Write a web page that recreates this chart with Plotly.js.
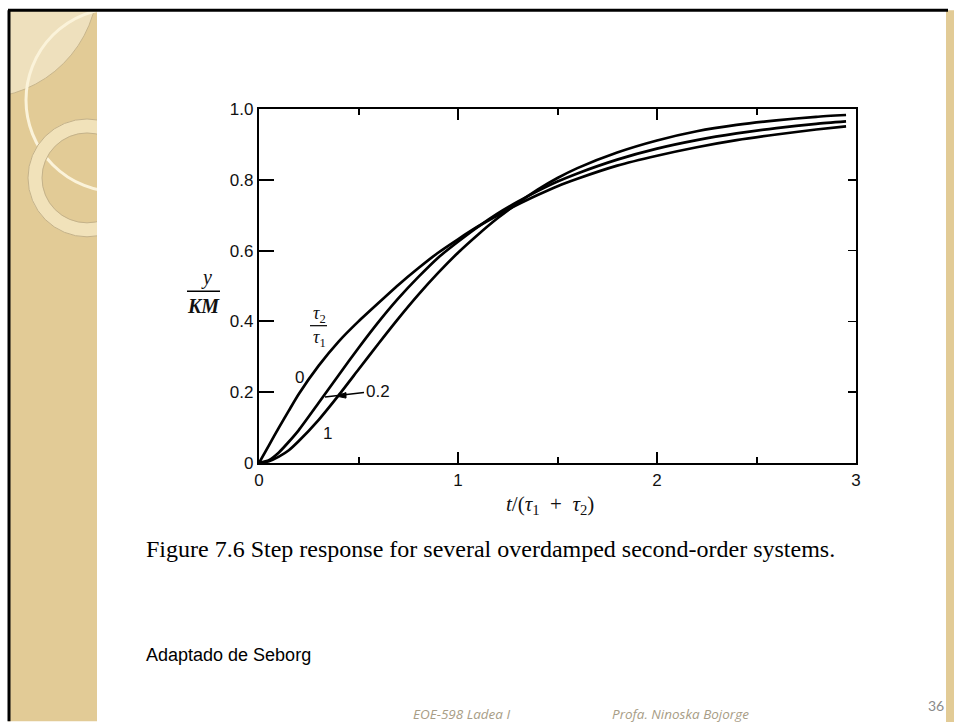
<!DOCTYPE html>
<html>
<head>
<meta charset="utf-8">
<script src="https://cdn.plot.ly/plotly-3.0.1.min.js"></script>
<style>
html,body{margin:0;padding:0;background:#fff;}
#chart{width:954px;height:722px;}
</style>
</head>
<body>
<div id="chart"></div>
<script>
// ---- data ----
const tValues = [0, 0.05, 0.1, 0.15, 0.2, 0.3, 0.4, 0.5, 0.6, 0.7, 0.8, 0.9, 1.0, 1.1, 1.2, 1.3, 1.4, 1.5, 1.6, 1.8, 2.0, 2.2, 2.4, 2.6, 2.8, 2.95];
const ratio0 = [0, 0.05, 0.1, 0.148, 0.195, 0.275, 0.343, 0.4, 0.452, 0.503, 0.55, 0.594, 0.632, 0.668, 0.70, 0.73, 0.757, 0.782, 0.803, 0.84, 0.868, 0.892, 0.912, 0.928, 0.942, 0.951];
const ratio02 = [0, 0.008, 0.03, 0.06, 0.093, 0.17, 0.248, 0.325, 0.398, 0.465, 0.525, 0.58, 0.625, 0.667, 0.705, 0.738, 0.768, 0.795, 0.818, 0.857, 0.888, 0.912, 0.931, 0.946, 0.958, 0.965];
const ratio1 = [0, 0.005, 0.018, 0.036, 0.062, 0.122, 0.191, 0.264, 0.337, 0.408, 0.475, 0.537, 0.594, 0.645, 0.692, 0.734, 0.772, 0.805, 0.833, 0.877, 0.911, 0.937, 0.955, 0.968, 0.978, 0.983];
const yTickVals = [0, 0.2, 0.4, 0.6, 0.8, 1.0];
const yTickText = ['0', '0.2', '0.4', '0.6', '0.8', '1.0'];
const yRightTicks = [0.2, 0.4, 0.6, 0.8];
const xTickVals = [0, 1, 2, 3];
const xTickText = ['0', '1', '2', '3'];
const caption = 'Figure 7.6 Step response for several overdamped second-order systems.';
const credit = 'Adaptado de Seborg';
const footerLeft = 'EOE-598 Ladea I';
const footerRight = 'Profa. Ninoska Bojorge';
const pageNum = '36';

// ---- layout geometry (pixels) ----
const W = 954, H = 722;
const L = 259, R = 856, T = 109, B = 463.5;
const px = x => (x - L) / (R - L);
const py = y => (B - y) / (B - T);

const lineStyle = {color: '#000', width: 2.7, shape: 'spline', smoothing: 0.6};
const traces = [
  {x: tValues, y: ratio0, mode: 'lines', line: lineStyle, name: '0', hoverinfo: 'skip'},
  {x: tValues, y: ratio02, mode: 'lines', line: lineStyle, name: '0.2', hoverinfo: 'skip'},
  {x: tValues, y: ratio1, mode: 'lines', line: lineStyle, name: '1', yaxis: 'y2', hoverinfo: 'skip'}
];

const tickFont = {family: 'Liberation Sans, Arial, sans-serif', size: 17, color: '#111'};

function circ(cx, cy, r, opts) {
  return Object.assign({type: 'circle', xref: 'paper', yref: 'paper', layer: 'below',
    x0: px(cx - r), x1: px(cx + r), y0: py(cy + r), y1: py(cy - r)}, opts);
}
function rect(x0, y0, x1, y1, opts) {
  return Object.assign({type: 'rect', xref: 'paper', yref: 'paper', layer: 'below',
    x0: px(x0), x1: px(x1), y0: py(y1), y1: py(y0)}, opts);
}
function seg(x0, y0, x1, y1, opts) {
  return Object.assign({type: 'line', xref: 'paper', yref: 'paper',
    x0: px(x0), x1: px(x1), y0: py(y0), y1: py(y1)}, opts);
}
function tri(pts, opts) {
  const d = 'M ' + pts.map(p => px(p[0]) + ',' + py(p[1])).join(' L ') + ' Z';
  return Object.assign({type: 'path', xref: 'paper', yref: 'paper', path: d}, opts);
}

const shapes = [
  // beige decorative strip
  rect(8, 10, 97, 722, {fillcolor: '#e2cb96', line: {width: 0}}),
  // lighter patterned region top-left
  circ(-20, -20, 118, {fillcolor: '#eee0bd', line: {color: '#c8b68d', width: 1}}),
  // large thin cream circle outline
  circ(118, 100, 92, {fillcolor: 'rgba(0,0,0,0)', line: {color: '#fbf3da', width: 3}}),
  // thick ring
  circ(87, 178, 52, {fillcolor: 'rgba(0,0,0,0)', line: {color: '#f1e2ba', width: 14}}),
  circ(87, 178, 59, {fillcolor: 'rgba(0,0,0,0)', line: {color: '#c4b28a', width: 1}}),
  circ(87, 178, 45, {fillcolor: 'rgba(0,0,0,0)', line: {color: '#c4b28a', width: 1}}),
  // white slide body and outer margins covering overflow
  rect(97, 10, 946, 722, {fillcolor: '#ffffff', line: {width: 0}}),
  rect(-5, -5, 960, 9, {fillcolor: '#ffffff', line: {width: 0}}),
  rect(-5, -5, 8, 730, {fillcolor: '#ffffff', line: {width: 0}}),
  // right beige edge
  rect(946, 10, 960, 730, {fillcolor: '#e2cb96', line: {width: 0}}),
  // black frame
  seg(8, 10, 948, 10, {line: {color: '#000', width: 3}, layer: 'below'}),
  seg(9, 10, 9, 722, {line: {color: '#000', width: 3}, layer: 'below'}),
  // fraction bars
  seg(187, 291.5, 220, 291.5, {line: {color: '#000', width: 1.5}}),
  seg(310, 326, 327, 326, {line: {color: '#000', width: 1.2}}),
  // pointer line for 0.2 with blob
  seg(325, 397.5, 364, 393, {line: {color: '#000', width: 1.5}}),
  tri([[336, 396.5], [346, 393], [346, 398.5]], {fillcolor: '#000', line: {color: '#000', width: 1}})
];

const annFont = {family: 'Liberation Sans, Arial, sans-serif', size: 17, color: '#111'};
const italicSerif = {family: 'Liberation Serif, Times New Roman, serif', size: 20, color: '#111'};
function ann(text, x, y, font, extra) {
  return Object.assign({text: text, x: px(x), y: py(y), xref: 'paper', yref: 'paper',
    showarrow: false, font: font, xanchor: 'center', yanchor: 'middle'}, extra || {});
}

const annotations = [
  ann('<i>y</i>', 206, 278, italicSerif),
  ann('<b><i>KM</i></b>', 203, 306, italicSerif),
  ann('<i>τ</i><sub>2</sub>', 319, 315, {family: 'Liberation Serif, serif', size: 18, color: '#111'}),
  ann('<i>τ</i><sub>1</sub>', 319, 339, {family: 'Liberation Serif, serif', size: 18, color: '#111'}),
  ann('0', 299, 378, annFont),
  ann('0.2', 378, 392, annFont),
  ann('1', 327, 434, annFont),
  ann('<i>t</i>/(<i>τ</i><sub>1</sub>&nbsp;&nbsp;+&nbsp;&nbsp;<i>τ</i><sub>2</sub>)', 550, 506, {family: 'Liberation Serif, serif', size: 21, color: '#111'}),
  ann(caption, 144, 550, {family: 'Liberation Serif, Times New Roman, serif', size: 24, color: '#000'}, {xanchor: 'left'}),
  ann(credit, 144, 656, {family: 'Liberation Sans, Arial, sans-serif', size: 18, color: '#000'}, {xanchor: 'left'}),
  ann('<i>' + footerLeft + '</i>', 461, 715, {family: 'Open Sans, Lato, sans-serif', size: 13.5, color: '#a89d86'}),
  ann('<i>' + footerRight + '</i>', 680, 715, {family: 'Open Sans, Lato, sans-serif', size: 13.5, color: '#a89d86'}),
  ann(pageNum, 936, 706, {family: 'Lato, Open Sans, sans-serif', size: 14, color: '#8a8a8a'})
];

const layout = {
  width: W, height: H,
  margin: {l: L, r: W - R, t: T, b: H - B, pad: 0},
  paper_bgcolor: '#ffffff',
  plot_bgcolor: 'rgba(0,0,0,0)',
  showlegend: false,
  xaxis: {
    range: [0, 3], tickvals: xTickVals, ticktext: xTickText,
    ticks: 'inside', ticklen: 11, tickwidth: 2, tickcolor: '#000',
    minor: {ticks: 'inside', dtick: 0.5, tick0: 0, ticklen: 6, tickwidth: 2, tickcolor: '#000'},
    showline: true, linecolor: '#000', linewidth: 2.2, mirror: 'ticks',
    showgrid: false, zeroline: false, tickfont: tickFont, fixedrange: true
  },
  yaxis: {
    range: [0, 1], tickvals: yTickVals, ticktext: yTickText,
    ticks: 'inside', ticklen: 15, tickwidth: 2, tickcolor: '#000',
    showline: true, linecolor: '#000', linewidth: 2.2, mirror: true,
    showgrid: false, zeroline: false, tickfont: tickFont, fixedrange: true
  },
  yaxis2: {
    range: [0, 1], overlaying: 'y', side: 'right', tickvals: yRightTicks,
    ticks: 'inside', ticklen: 8, tickwidth: 1.5, tickcolor: '#000', showticklabels: false,
    showline: false, showgrid: false, zeroline: false, fixedrange: true
  },
  shapes: shapes,
  annotations: annotations
};

Plotly.newPlot('chart', traces, layout, {staticPlot: true, displayModeBar: false});
</script>
</body>
</html>
